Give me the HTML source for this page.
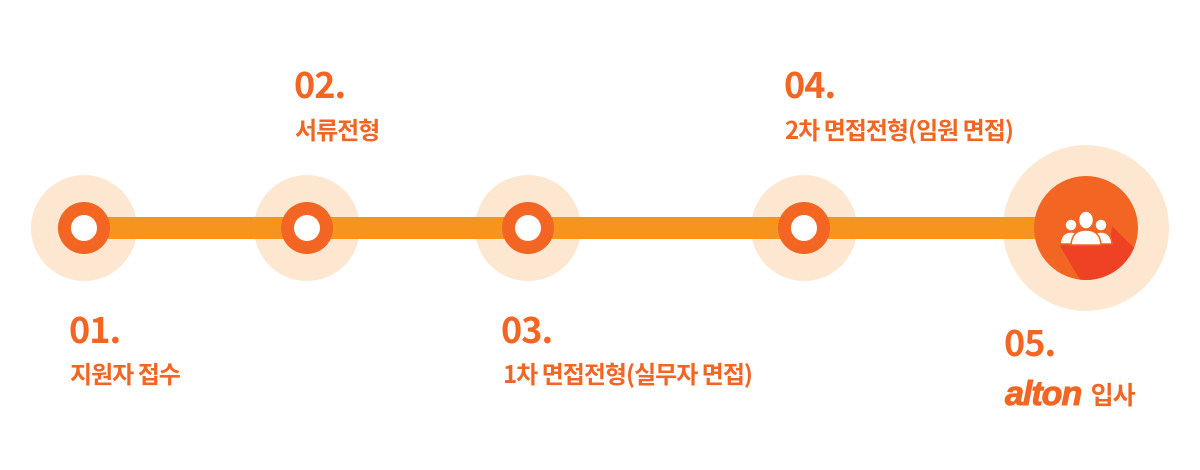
<!DOCTYPE html>
<html><head><meta charset="utf-8"><style>
body{margin:0;width:1200px;height:470px;background:#fff;position:relative;overflow:hidden;font-family:"Liberation Sans","Noto Sans CJK KR",sans-serif}
.n{position:absolute;font-family:"Noto Sans CJK KR",sans-serif;font-weight:700;color:#f26522;font-size:36px;line-height:1;letter-spacing:-1px}
.l{position:absolute;font-family:"Noto Sans CJK KR",sans-serif;font-weight:700;color:#f26522;font-size:24px;line-height:1;letter-spacing:-1px;white-space:nowrap}
</style></head><body>
<svg width="1200" height="470" style="position:absolute;left:0;top:0">
<defs><clipPath id="c"><circle cx="1086" cy="228" r="52"/></clipPath></defs>
<g fill="#fde7d0">
<circle cx="84" cy="228" r="53"/><circle cx="307" cy="228" r="53"/><circle cx="528" cy="228" r="53"/><circle cx="804" cy="228" r="53"/><circle cx="1086" cy="228" r="83"/>
</g>
<rect x="84" y="217" width="960" height="22" fill="#f7941d"/>
<g fill="#f26522">
<circle cx="84" cy="228" r="26"/><circle cx="307" cy="228" r="26"/><circle cx="528" cy="228" r="26"/><circle cx="804" cy="228" r="26"/>
</g>
<g fill="#fff">
<circle cx="84" cy="228" r="13"/><circle cx="307" cy="228" r="13"/><circle cx="528" cy="228" r="13"/><circle cx="804" cy="228" r="13"/>
</g>
<circle cx="1086" cy="228" r="52" fill="#f26522"/>
<polygon clip-path="url(#c)" points="1062,244 1110,244 1112,226 1160,274 1110,330 1060,246" fill="#ef4123"/>
<g fill="#fff" stroke="#f26522" stroke-width="1.5">
<circle cx="1071" cy="225" r="6"/><circle cx="1101" cy="225" r="6"/>
<path d="M1060 244 q1-12 11-12 q10 0 11 12z"/><path d="M1090 244 q1-12 11-12 q10 0 11 12z"/>
<ellipse cx="1086" cy="220" rx="7.5" ry="9"/>
<path d="M1071 245 q1-15 15-15 q14 0 15 15z"/>
</g>
</svg>
<div class="n" style="left:69px;top:310px">01.</div>
<div class="l" style="left:70px;top:361px">지원자 접수</div>
<div class="n" style="left:294px;top:65px">02.</div>
<div class="l" style="left:295px;top:117px">서류전형</div>
<div class="n" style="left:501px;top:310px">03.</div>
<div class="l" style="left:503px;top:361px">1차 면접전형(실무자 면접)</div>
<div class="n" style="left:784px;top:65px">04.</div>
<div class="l" style="left:785px;top:117px">2차 면접전형(임원 면접)</div>
<div class="n" style="left:1004px;top:323px">05.</div>
<div class="l" style="left:1005px;top:376px;font-size:25px"><span style="font-family:'Liberation Sans',sans-serif;font-style:italic;font-weight:900;font-size:34px;letter-spacing:-1px;position:relative;top:1px;-webkit-text-stroke:1px #f26522">alton</span>&nbsp;&nbsp;입사</div>
</body></html>
